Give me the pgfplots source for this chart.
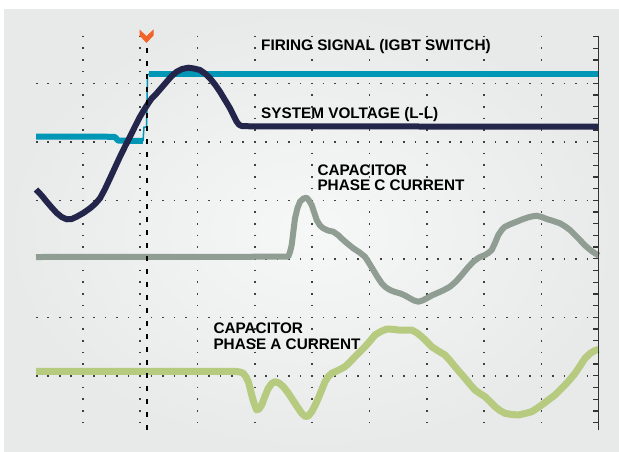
\documentclass[border=0pt]{standalone}
\usepackage{pgfplots}
\pgfplotsset{compat=1.18}
\usepackage{fontspec}
\setmainfont{Liberation Sans}
\definecolor{cyanT}{RGB}{0,150,181}
\definecolor{navyT}{RGB}{35,38,74}
\definecolor{grayT}{RGB}{143,157,147}
\definecolor{greenT}{RGB}{182,203,127}
\definecolor{orangeT}{RGB}{242,99,40}
\definecolor{panelIn}{RGB}{246,247,247}
\definecolor{panelOut}{RGB}{232,233,233}
\begin{document}
\begin{tikzpicture}[x=1pt,y=1pt]
\useasboundingbox (0,0) rectangle (619,451);
\shade[inner color=panelIn, outer color=panelOut] (4,0) rectangle (619,441);
\begin{axis}[
  at={(36pt,21pt)}, anchor=south west,
  scale only axis, width=562.7pt, height=394.5pt,
  xmin=36, xmax=598.7, ymin=35.5, ymax=430, y dir=reverse,
  clip=false,
  axis line style={draw=none},
  xtick={82.7,140,197.3,254.7,312,369.3,426.7,484,541.3},
  xticklabels={}, xtick style={draw=none},
  xmajorgrids,
  x grid style={black!75, line width=1.6pt, dash pattern=on 1.6pt off 10.1pt, dash phase=11.5pt},
  ytick={36.5,48.2,...,423},
  yticklabels={}, ytick pos=right, tick align=inside,
  major tick length=6pt,
  ytick style={black!80, line width=1.3pt},
  extra y ticks={83.3,141.8,200.3,258.8,317.3,375.8},
  extra y tick labels={},
  extra y tick style={grid=major},
  y grid style={black!75, line width=1.6pt, dash pattern=on 1.6pt off 9.87pt},
  every axis plot/.append style={line join=round},
]
% Firing signal
\addplot[cyanT, line width=6pt] coordinates {(36,136.5) (100,136.5) (115,137) (118,140.5) (143,141)};
\addplot[cyanT, line width=1.5pt] coordinates {(143,141) (144,127) (146.5,127) (147.5,75) (149,74)};
\addplot[cyanT, line width=6pt] coordinates {(149,74) (598.7,74)};
% System voltage
\addplot[navyT, line width=6pt] coordinates {
(36,189.5) (41.7,195.5) (46.7,201.7) (51.7,207.5) (56.7,213) (61.7,217) (66.7,219.3)
(71.7,219) (76.7,216.7) (83.3,213) (90,208.3) (95,204) (100,198.3) (105,189)
(110,178.3) (115,167.5) (120,156.7) (125,146.5) (130,136.7) (135,126.5) (140,116.7)
(144,110) (148.3,103.3) (152,98) (156.7,93.3) (161.7,87.5) (166.7,81.7) (171.7,76)
(176.7,71.7) (182,69) (188.3,67.7) (194,68.5) (200,70) (205,73.5) (210,78.3)
(215,84.5) (220,91.7) (225,100) (230,108.3) (233.3,115) (236.7,121.7) (239,124.7)
(241.7,126) (250,126.3) (598.7,126.7)};
% Capacitor phase C current
\addplot[grayT, line width=6pt] coordinates {
(36,257) (288.3,256.7) (290,252) (291.7,245) (293.3,232) (295,218.3) (297.5,208)
(300,201.7) (303.3,198.5) (306.7,197.7) (309,200.5) (311.7,205) (314,212) (316.7,220)
(320,225.5) (323.3,228.3) (328,230.5) (333.3,231.7) (338,235) (343.3,240) (348,244)
(353.3,248.3) (359,252) (365,256.7) (369,263) (373.3,270) (377.5,277) (381.7,283.3)
(386,287.5) (390,290) (395,292) (400,293.3) (405,295.5) (410,298.3) (414,300.5)
(418.3,301.7) (422.5,300.5) (426.7,298.3) (431.7,295.5) (436.7,293.3) (443,290.5)
(450,286.7) (456,281.5) (461.7,275) (467.5,268) (473.3,261.7) (479,257.5) (485,255)
(488.3,253) (491.7,250) (495,243) (498.3,235) (501.7,230) (505,226.7) (510.8,224)
(516.7,221.7) (522.5,219.3) (528.3,217.3) (532.5,216.3) (536.7,215.7) (541.7,217)
(546.7,219) (553.3,221) (560,223.3) (565,226.3) (570,230) (575,235) (580,240)
(584,244.5) (588.3,248.3) (591.7,251) (595,253.3) (598.7,255.5)};
% Capacitor phase A current
\addplot[greenT, line width=7pt] coordinates {
(36,371.3) (235,371.3) (240,372) (243.3,373.3) (246,377) (248.3,381.7) (250,388)
(251.7,395) (254,403) (256.7,410) (259,409) (261.7,405) (265,396) (268.3,388.3)
(271.7,383.5) (275,381.7) (279,383) (283.3,386.7) (287.5,392) (291.7,398.3)
(296.7,406) (301.7,413.3) (305.7,416.7) (308.7,415.5) (311.7,411.7) (315,405.5)
(318.3,398.3) (321.7,390) (325,381.7) (328.3,376.5) (331.7,373.3) (338.3,370.3)
(345,366.7) (350,362) (355,356.7) (360,351.7) (365,346.7) (370,341) (375,335)
(380.8,331.5) (386.7,329) (392.5,329.3) (398.3,330) (405,330) (411.7,330)
(416.7,332.7) (421.7,336.7) (426.7,341.5) (431.7,346.7) (438.3,351) (445,355)
(450,360.5) (455,366.7) (460,372.5) (465,378.3) (470,384.3) (475,390) (480,393.5)
(485,396.7) (490,401.5) (495,406.7) (500,410.5) (505,413.3) (511.7,414.5)
(518.3,415) (525,413.5) (531.7,411.7) (536.7,408.5) (541.7,405) (548.3,400)
(555,395) (560,390) (565,385) (570,379.5) (575,373.3) (580,366) (585,358.3)
(590,353.5) (595,350.5) (598.7,349.5)};
% trigger line and right axis
\draw[black, line width=1.8pt, dash pattern=on 5pt off 8pt] (axis cs:147,48) -- (axis cs:147,430);
\draw[black!80, line width=1.5pt] (rel axis cs:1,0) -- (rel axis cs:1,1);
\end{axis}
\fill[orangeT] (139.5,421.5) -- (146.5,415) -- (153.5,421.5) -- (153.5,415.5) -- (146.5,408) -- (139.5,415.5) -- cycle;
\begin{scope}[every node/.style={inner sep=0pt, anchor=base west, font=\bfseries\fontsize{15.3}{16}\selectfont}]
\node at (261,400) {FIRING SIGNAL (IGBT SWITCH)};
\node at (261,333) {SYSTEM VOLTAGE (L-L)};
\node at (317.3,276) {CAPACITOR};
\node at (317.3,260.3) {PHASE C CURRENT};
\node at (213.3,117.7) {CAPACITOR};
\node at (213.3,102) {PHASE A CURRENT};
\end{scope}
\end{tikzpicture}
\end{document}
